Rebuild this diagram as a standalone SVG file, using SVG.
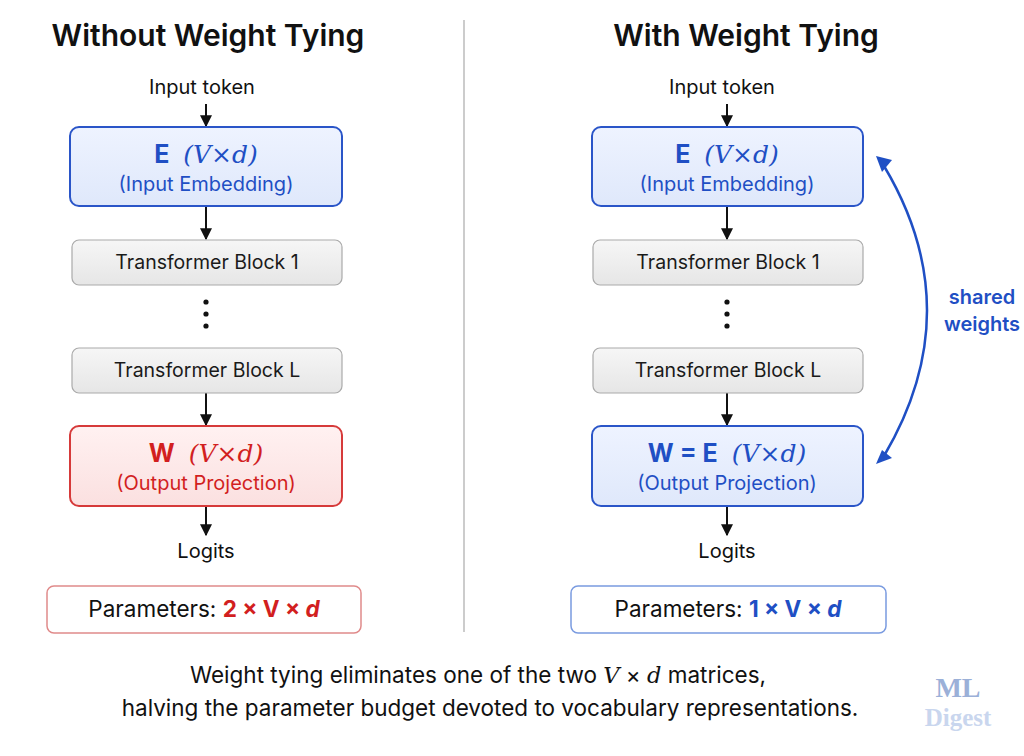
<svg xmlns="http://www.w3.org/2000/svg" width="1024" height="756" viewBox="0 0 1024 756">
<defs>
<marker id="ah" viewBox="0 0 10 10" refX="9" refY="5" markerWidth="6" markerHeight="6" orient="auto"><path d="M0,0 L10,5 L0,10 z" fill="#111"/></marker>
<marker id="ab" viewBox="0 0 10 10" refX="9" refY="5" markerWidth="5" markerHeight="5" orient="auto"><path d="M0,0 L10,5 L0,10 z" fill="#1f4fc4"/></marker>
<linearGradient id="gb" x1="0" y1="0" x2="0" y2="1"><stop offset="0" stop-color="#eef3ff"/><stop offset="1" stop-color="#dfe8fb"/></linearGradient>
<linearGradient id="gr" x1="0" y1="0" x2="0" y2="1"><stop offset="0" stop-color="#fff1f1"/><stop offset="1" stop-color="#fbe0e0"/></linearGradient>
<linearGradient id="gg" x1="0" y1="0" x2="0" y2="1"><stop offset="0" stop-color="#f6f6f6"/><stop offset="1" stop-color="#e6e6e6"/></linearGradient>
</defs>
<style>
text{font-family:"Inter","Liberation Sans",sans-serif;text-anchor:middle}
.t{font-size:30px;font-weight:600;fill:#111}
.l{font-size:20px;fill:#111}
.blue{fill:url(#gb);stroke:#2a55c8;stroke-width:2}
.red{fill:url(#gr);stroke:#d63a3a;stroke-width:2}
.gray{fill:url(#gg);stroke:#aaa;stroke-width:1.2}
.m{font-size:25px;font-weight:700}
.mi{font-family:"DejaVu Serif","Liberation Serif",serif;font-style:italic;font-weight:400}
.s{font-size:20px}
.c{stroke:#111;stroke-width:2;fill:none;marker-end:url(#ah)}
.bt{font-size:19.5px;fill:#1a1a1a}
.p{font-size:22.5px;fill:#111}
.logo{font-family:"Liberation Serif",serif;font-weight:700}
</style>
<rect width="1024" height="756" fill="#fff"/>
<line x1="464" y1="20" x2="464" y2="632" stroke="#bbb" stroke-width="1.5"/>
<text class="t" x="208" y="46">Without Weight Tying</text>
<text class="t" x="746" y="46">With Weight Tying</text>

<g id="connectors">
<line class="c" x1="206" y1="104" x2="206" y2="126"/>
<line class="c" x1="206" y1="207" x2="206" y2="239"/>
<line class="c" x1="206" y1="393" x2="206" y2="425"/>
<line class="c" x1="206" y1="507" x2="206" y2="535"/>
<line class="c" x1="727" y1="104" x2="727" y2="126"/>
<line class="c" x1="727" y1="207" x2="727" y2="239"/>
<line class="c" x1="727" y1="393" x2="727" y2="425"/>
<line class="c" x1="727" y1="507" x2="727" y2="535"/>
<path d="M884,166 Q970,310 884,456" fill="none" stroke="#1f4fc4" stroke-width="2.5"/>
<path d="M876,156 L892,160 L882,172 z" fill="#1f4fc4"/>
<path d="M876,464 L882,450 L892,458 z" fill="#1f4fc4"/>
</g>

<g id="left-input"><text class="l" x="202" y="94">Input token</text></g>
<g id="left-E"><rect class="blue" x="70" y="127" width="272" height="79" rx="9"/>
<text x="206" y="163" class="m" fill="#1f4fc4">E <tspan class="mi" dx="8">(V×d)</tspan></text>
<text x="206" y="191" class="s" fill="#1f4fc4">(Input Embedding)</text></g>
<g id="left-b1"><rect class="gray" x="72" y="240" width="270" height="45" rx="7"/><text class="bt" x="207" y="269">Transformer Block 1</text></g>
<g id="left-dots"><circle cx="206" cy="302" r="2.6" fill="#111"/><circle cx="206" cy="314" r="2.6" fill="#111"/><circle cx="206" cy="326" r="2.6" fill="#111"/></g>
<g id="left-bL"><rect class="gray" x="72" y="348" width="270" height="45" rx="7"/><text class="bt" x="207" y="377">Transformer Block L</text></g>
<g id="left-W"><rect class="red" x="70" y="426" width="272" height="80" rx="9"/>
<text x="206" y="462" class="m" fill="#d21f1f">W <tspan class="mi" dx="8">(V×d)</tspan></text>
<text x="206" y="490" class="s" fill="#d21f1f">(Output Projection)</text></g>
<g id="left-logits"><text class="l" x="206" y="558">Logits</text></g>
<g id="left-params"><rect x="47" y="586" width="314" height="47" rx="7" fill="#fff" stroke="#e08a8a" stroke-width="1.5"/>
<text class="p" x="204" y="617">Parameters: <tspan fill="#d21f1f" font-weight="700">2 × V × <tspan font-style="italic">d</tspan></tspan></text></g>

<g id="right-input"><text class="l" x="722" y="94">Input token</text></g>
<g id="right-E"><rect class="blue" x="592" y="127" width="271" height="79" rx="9"/>
<text x="727" y="163" class="m" fill="#1f4fc4">E <tspan class="mi" dx="8">(V×d)</tspan></text>
<text x="727" y="191" class="s" fill="#1f4fc4">(Input Embedding)</text></g>
<g id="right-b1"><rect class="gray" x="593" y="240" width="270" height="45" rx="7"/><text class="bt" x="728" y="269">Transformer Block 1</text></g>
<g id="right-dots"><circle cx="727" cy="302" r="2.6" fill="#111"/><circle cx="727" cy="314" r="2.6" fill="#111"/><circle cx="727" cy="326" r="2.6" fill="#111"/></g>
<g id="right-bL"><rect class="gray" x="593" y="348" width="270" height="45" rx="7"/><text class="bt" x="728" y="377">Transformer Block L</text></g>
<g id="right-W"><rect class="blue" x="592" y="426" width="271" height="80" rx="9"/>
<text x="727" y="462" class="m" fill="#1f4fc4">W = E <tspan class="mi" dx="8">(V×d)</tspan></text>
<text x="727" y="490" class="s" fill="#1f4fc4">(Output Projection)</text></g>
<g id="right-logits"><text class="l" x="727" y="558">Logits</text></g>
<g id="right-params"><rect x="571" y="586" width="315" height="47" rx="7" fill="#fff" stroke="#7a9be0" stroke-width="1.5"/>
<text class="p" x="728" y="617">Parameters: <tspan fill="#1f4fc4" font-weight="700">1 × V × <tspan font-style="italic">d</tspan></tspan></text></g>

<g id="shared-label"><text x="982" y="304" font-size="20" font-weight="600" fill="#1f4fc4">shared</text><text x="982" y="331" font-size="20" font-weight="600" fill="#1f4fc4">weights</text></g>

<g id="caption">
<text x="478" y="683" font-size="22.5" fill="#111">Weight tying eliminates one of the two <tspan class="mi">V</tspan> × <tspan class="mi">d</tspan> matrices,</text>
<text x="490" y="716" font-size="22.5" fill="#111">halving the parameter budget devoted to vocabulary representations.</text>
</g>
<g id="logo"><text class="logo" x="958" y="697" font-size="28" fill="#9bb0d8">ML</text><text class="logo" x="958" y="726" font-size="25" fill="#c9d6ee">Digest</text></g>
</svg>
